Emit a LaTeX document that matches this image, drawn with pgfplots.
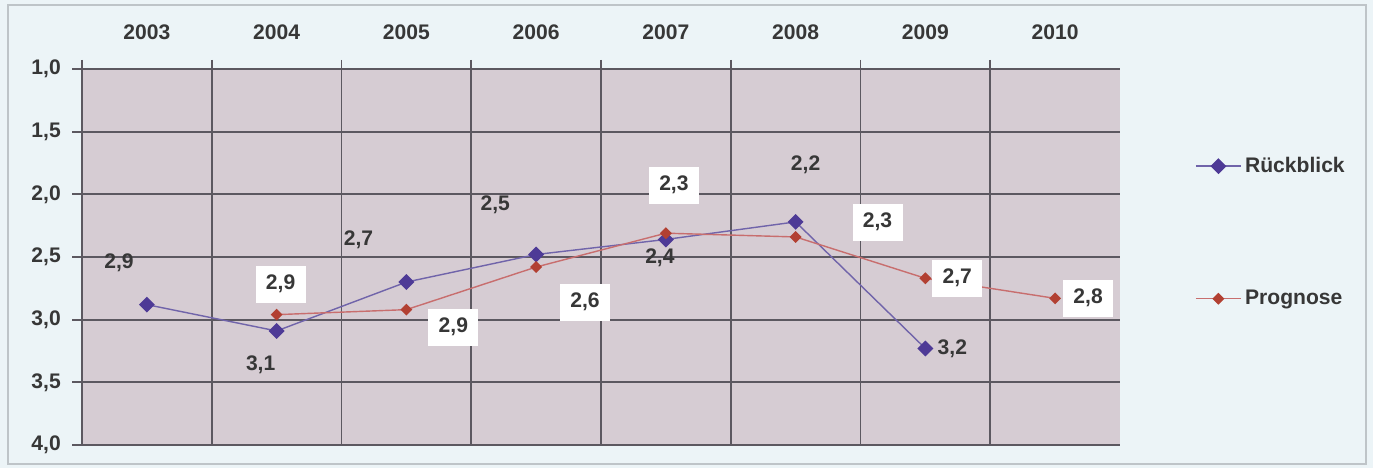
\documentclass[border=0pt]{standalone}
\usepackage{fontspec}
\setmainfont{Liberation Sans}
\usepackage{pgfplots}
\usepackage{pgfplotstable}
\pgfplotsset{compat=1.18}

\definecolor{outerbg}{RGB}{236,244,247}
\definecolor{framec}{RGB}{190,196,200}
\definecolor{plotbg}{RGB}{214,204,211}
\definecolor{gridc}{RGB}{92,88,96}
\definecolor{txt}{RGB}{55,55,55}
\definecolor{rueck}{RGB}{78,58,150}
\definecolor{rueckline}{RGB}{112,100,170}
\definecolor{progn}{RGB}{178,64,50}
\definecolor{prognline}{RGB}{200,110,110}

% Werte (Jahr als Index 0 = 2003)
\pgfplotstableread{
x y
0 2.88
1 3.09
2 2.70
3 2.48
4 2.36
5 2.22
6 3.23
}\rueckblick

\pgfplotstableread{
x y
1 2.96
2 2.92
3 2.58
4 2.31
5 2.34
6 2.67
7 2.83
}\prognose

% Beschriftungen (Position, Text)
\pgfplotstableread{
x y label
-0.215 2.548 2,9
0.877 3.362 3,1
1.631 2.365 2,7
2.685 2.085 2,5
3.954 2.508 2,4
5.077 1.766 2,2
6.208 3.235 3,2
}\rueckblab

\pgfplotstableread{
x y label
1.031 2.716 2,9
2.362 3.059 2,9
3.377 2.860 2,6
4.062 1.926 2,3
5.631 2.221 2,3
6.246 2.668 2,7
7.254 2.828 2,8
}\prognlab

\newcommand{\lbl}{\fontsize{12}{14}\selectfont\bfseries}

\begin{document}
\begin{tikzpicture}
\fill[outerbg] (0,0) rectangle (27.46cm,9.36cm);
\draw[framec, line width=0.6pt] (0.16cm,0.08cm) rectangle (27.32cm,9.26cm);
\begin{axis}[
    at={(1.64cm,0.46cm)}, anchor=south west,
    scale only axis,
    width=20.76cm, height=7.52cm,
    xmin=-0.5, xmax=7.5,
    ymin=1, ymax=4,
    y dir=reverse,
    clip=false,
    axis background/.style={fill=plotbg},
    axis line style={draw=none},
    xtick={0,...,7},
    xticklabels={2003,2004,2005,2006,2007,2008,2009,2010},
    xticklabel pos=upper,
    xtick pos=upper,
    minor xtick={-0.5,0.5,...,6.5},
    xminorgrids,
    ytick={1,1.5,...,4},
    ytick pos=left,
    ymajorgrids,
    tick align=outside,
    major tick length=0.2cm,
    minor tick length=0.18cm,
    every major x tick/.append style={draw=none},
    every tick/.style={gridc, line width=1pt},
    grid style={gridc, line width=1pt},
    minor grid style={gridc, line width=1pt},
    /pgf/number format/assume math mode=true,
    /pgf/number format/.cd, use comma, fixed, fixed zerofill, precision=1,
    /pgfplots/.cd,
    tick label style={font=\lbl, text=txt},
    xticklabel style={yshift=0.26cm},
    yticklabel style={xshift=-0.1cm},
    legend style={
        at={(1.067,0.785)}, anchor=north west,
        draw=none, fill=none,
        font=\lbl, text=txt,
        row sep=2.16cm,
        legend cell align=left,
    },
    legend image code/.code={
        \draw[mark repeat=2, mark phase=2] plot coordinates {(0cm,0cm) (0.45cm,0cm) (0.9cm,0cm)};
    },
]

\addplot[rueckline, line width=0.8pt, mark=square*, mark size=2.8pt,
    mark options={rueck, fill=rueck, rotate=45}] table[x=x, y=y] {\rueckblick};
\addlegendentry{Rückblick}

\addplot[prognline, line width=0.8pt, mark=square*, mark size=2pt,
    mark options={progn, fill=progn, rotate=45}] table[x=x, y=y] {\prognose};
\addlegendentry{Prognose}

\addplot[forget plot, draw=none, mark=none, point meta=explicit symbolic,
    nodes near coords,
    nodes near coords style={anchor=center, font=\lbl, text=txt, inner sep=0pt}]
    table[x=x, y=y, meta=label] {\rueckblab};

\addplot[forget plot, draw=none, mark=none, point meta=explicit symbolic,
    nodes near coords,
    nodes near coords style={anchor=center, font=\lbl, text=txt, fill=white,
        minimum width=1.0cm, minimum height=0.74cm, inner sep=0pt}]
    table[x=x, y=y, meta=label] {\prognlab};

\end{axis}
\end{tikzpicture}
\end{document}
